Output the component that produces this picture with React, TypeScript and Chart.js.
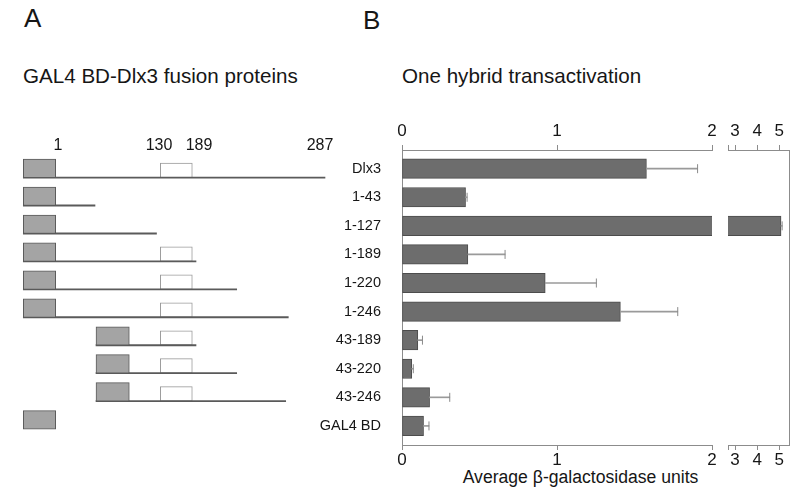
import React, { useEffect, useRef } from 'react';
import { Chart, registerables } from 'chart.js';

Chart.register(...registerables);

const FONT = "'Liberation Sans', Arial, Helvetica, sans-serif";
const INK = '#161616';
const AXIS = '#8c8c8c';

// ---------- Panel B data ----------
const constructs = ['Dlx3', '1-43', '1-127', '1-189', '1-220', '1-246', '43-189', '43-220', '43-246', 'GAL4 BD'];
const activity = [1.577, 0.41, 5.08, 0.425, 0.924, 1.409, 0.102, 0.063, 0.178, 0.139];
const activityErr = [0.33, 0.01, 0.05, 0.24, 0.33, 0.37, 0.03, 0.01, 0.13, 0.035];
const lowTicks = [0, 1, 2];
const highTicks = [3, 4, 5];
const highStart = 2.68;
const highEnd = 5.44;

// ---------- Panel A schematic (positions along the drawn schematic axis) ----------
const bdStart = [23.3, 23.3, 23.3, 23.3, 23.3, 23.3, 96, 96, 96, 23.3];
const bdEnd = [55.7, 55.7, 55.7, 55.7, 55.7, 55.7, 129.3, 129.3, 129.3, 55.7];
const fusionEnd = [325, 95, 156.5, 196, 236.7, 288.3, 196, 236.7, 285.7, null];
const hdStart = [160.3, null, null, 160.3, 160.3, 160.3, 160.3, 160.3, 160.3, null];
const hdEnd = [192.3, null, null, 192.3, 192.3, 192.3, 192.3, 192.3, 192.3, null];
const residueLabels = ['1', '130', '189', '287'];
const residueLabelPos = [58, 159, 199, 320];

const rowIdx = constructs.map((_, i) => i);

function hiddenRowScale(min: number, max: number) {
  return { type: 'linear', display: false, reverse: true, offset: false, grid: { offset: false }, min, max };
}

function PanelA() {
  const ref = useRef<HTMLCanvasElement | null>(null);
  useEffect(() => {
    const rowPx = 27.94;
    const lineOff = 9.25 / rowPx;
    const hdOff = 2 / rowPx;
    const chart = new Chart(ref.current as HTMLCanvasElement, {
      type: 'bar',
      data: {
        datasets: [
          {
            label: 'Homeodomain',
            yAxisID: 'yHD',
            data: rowIdx.filter(i => hdStart[i] != null).map(i => ({ x: [hdStart[i], hdEnd[i]], y: i })),
            backgroundColor: '#ffffff',
            borderColor: '#9a9a9a',
            borderWidth: 1,
            borderSkipped: false,
            barThickness: 14.5,
            grouped: false,
            order: 3,
            clip: 0,
          } as any,
          {
            label: 'Fusion',
            yAxisID: 'yLine',
            data: rowIdx.filter(i => fusionEnd[i] != null).map(i => ({ x: [bdStart[i], fusionEnd[i]], y: i })),
            backgroundColor: '#5a5a5a',
            borderWidth: 0,
            barThickness: 1.2,
            grouped: false,
            order: 2,
            clip: 0,
          } as any,
          {
            label: 'GAL4 BD',
            yAxisID: 'y',
            data: rowIdx.map(i => ({ x: [bdStart[i], bdEnd[i]], y: i })),
            backgroundColor: '#a4a4a4',
            borderColor: '#5a5a5a',
            borderWidth: 1,
            borderSkipped: false,
            barThickness: 18.5,
            grouped: false,
            order: 1,
            clip: 0,
          } as any,
        ],
      },
      options: {
        indexAxis: 'y',
        animation: false,
        responsive: false,
        maintainAspectRatio: false,
        layout: { padding: { left: 0, right: 0, top: 0, bottom: 6.22 } },
        plugins: { legend: { display: false }, tooltip: { enabled: false } },
        scales: {
          x: {
            type: 'linear',
            position: 'top',
            min: 0,
            max: 345,
            offset: false,
            grid: { display: false, drawTicks: false, offset: false },
            border: { display: false },
            afterBuildTicks: (s: any) => { s.ticks = residueLabelPos.map(v => ({ value: v })); },
            afterFit: (s: any) => { s.height = 54.38; },
            ticks: {
              autoSkip: false,
              maxRotation: 0,
              padding: -1,
              color: INK,
              font: { family: FONT, size: 16 },
              callback: (v: any) => { const k = residueLabelPos.indexOf(Number(v)); return k >= 0 ? residueLabels[k] : ''; },
            },
          },
          y: hiddenRowScale(-0.5, 9.5),
          yLine: hiddenRowScale(-0.5 - lineOff, 9.5 - lineOff),
          yHD: hiddenRowScale(-0.5 - hdOff, 9.5 - hdOff),
        } as any,
      },
    });
    return () => chart.destroy();
  }, []);
  return (
    <canvas ref={ref} width={345} height={340}
      style={{ position: 'absolute', left: 0, top: 100, width: 345, height: 340 }} />
  );
}

function barDatasets() {
  return [
    {
      type: 'bar',
      label: 'Average β-galactosidase units',
      data: rowIdx.map(i => ({ x: activity[i], y: i })),
      backgroundColor: '#6d6d6d',
      borderColor: '#4c4c4c',
      borderWidth: 1,
      borderSkipped: false,
      barThickness: 19.5,
      grouped: false,
      order: 2,
      clip: 0,
    },
    {
      type: 'bar',
      label: 'error',
      data: rowIdx.map(i => ({ x: [activity[i], activity[i] + activityErr[i]], y: i })),
      backgroundColor: '#9a9a9a',
      borderWidth: 0,
      barThickness: 1,
      grouped: false,
      order: 1,
      clip: 0,
    },
    {
      type: 'scatter',
      label: 'error cap',
      data: rowIdx.map(i => ({ x: activity[i] + activityErr[i], y: i })),
      pointStyle: 'line',
      rotation: 90,
      radius: 4.5,
      borderColor: '#8a8a8a',
      borderWidth: 1,
      order: 0,
      clip: 0,
    },
  ] as any[];
}

const yMin = -0.654;
const yMax = 9.668;

function xScale(position: 'top' | 'bottom', min: number, max: number, ticks: number[], h: number, pad: number) {
  return {
    type: 'linear',
    position,
    min,
    max,
    offset: false,
    grid: { drawOnChartArea: false, drawTicks: true, tickLength: 5, color: AXIS, lineWidth: 1, offset: false },
    border: { display: true, color: AXIS, width: 1 },
    afterBuildTicks: (s: any) => { s.ticks = ticks.map(v => ({ value: v })); },
    afterFit: (s: any) => { s.height = h; },
    ticks: {
      autoSkip: false,
      maxRotation: 0,
      padding: pad,
      color: INK,
      font: { family: FONT, size: 17 },
      callback: (v: any) => (Number.isInteger(Number(v)) ? String(v) : ''),
    },
  };
}

function baseOptions(padding: any, yScale: any) {
  return {
    indexAxis: 'y',
    animation: false,
    responsive: false,
    maintainAspectRatio: false,
    layout: { padding },
    plugins: { legend: { display: false }, tooltip: { enabled: false } },
    scales: {
      x: null as any,
      xTop: null as any,
      y: yScale,
    },
  } as any;
}

function PanelBLow() {
  const ref = useRef<HTMLCanvasElement | null>(null);
  useEffect(() => {
    const options = baseOptions({ left: 0, right: 8, top: 0, bottom: 0 }, {
      type: 'linear',
      position: 'left',
      reverse: true,
      offset: false,
      min: yMin,
      max: yMax,
      grid: { display: false, drawTicks: false, offset: false },
      border: { display: true, color: AXIS, width: 1 },
      afterBuildTicks: (s: any) => { s.ticks = rowIdx.map(v => ({ value: v })); },
      afterFit: (s: any) => { s.width = 112; },
      ticks: {
        autoSkip: false,
        padding: 21,
        color: INK,
        font: { family: FONT, size: 14.5 },
        callback: (v: any) => constructs[Number(v)] ?? '',
      },
    });
    options.scales.x = xScale('bottom', 0, 2, lowTicks, 45, 0);
    options.scales.xTop = xScale('top', 0, 2, lowTicks, 50, 3);
    const chart = new Chart(ref.current as HTMLCanvasElement, {
      type: 'bar',
      data: { datasets: barDatasets() },
      options,
    });
    return () => chart.destroy();
  }, []);
  return (
    <canvas ref={ref} width={430} height={390}
      style={{ position: 'absolute', left: 290, top: 100, width: 430, height: 390 }} />
  );
}

function PanelBHigh() {
  const ref = useRef<HTMLCanvasElement | null>(null);
  useEffect(() => {
    const options = baseOptions({ left: 8, right: 11, top: 0, bottom: 0 }, {
      type: 'linear',
      position: 'right',
      reverse: true,
      offset: false,
      min: yMin,
      max: yMax,
      grid: { display: false, drawTicks: false, offset: false },
      border: { display: true, color: AXIS, width: 1 },
      ticks: { display: false },
      afterFit: (s: any) => { s.width = 0; },
    });
    options.scales.x = xScale('bottom', highStart, highEnd, [highStart, ...highTicks], 45, 0);
    options.scales.xTop = xScale('top', highStart, highEnd, [highStart, ...highTicks], 50, 3);
    const chart = new Chart(ref.current as HTMLCanvasElement, {
      type: 'bar',
      data: { datasets: barDatasets() },
      options,
    });
    return () => chart.destroy();
  }, []);
  return (
    <canvas ref={ref} width={80} height={390}
      style={{ position: 'absolute', left: 720, top: 100, width: 80, height: 390 }} />
  );
}

const textBase: React.CSSProperties = {
  position: 'absolute',
  fontFamily: FONT,
  color: INK,
  lineHeight: 1,
  whiteSpace: 'nowrap',
  margin: 0,
};

export default function App() {
  return (
    <div style={{ position: 'absolute', left: 0, top: 0, width: 800, height: 499, background: '#fff', overflow: 'hidden' }}>
      <div style={{ ...textBase, left: 24, top: 4.9, fontSize: 26 }}>A</div>
      <div style={{ ...textBase, left: 363, top: 6.6, fontSize: 26 }}>B</div>
      <div style={{ ...textBase, left: 23, top: 65.6, fontSize: 20.6 }}>GAL4 BD-Dlx3 fusion proteins</div>
      <div style={{ ...textBase, left: 402, top: 65.6, fontSize: 20.6 }}>One hybrid transactivation</div>
      <div style={{ ...textBase, left: 462.7, top: 469.4, fontSize: 17.6 }}>Average β-galactosidase units</div>
      <PanelA />
      <PanelBLow />
      <PanelBHigh />
    </div>
  );
}
